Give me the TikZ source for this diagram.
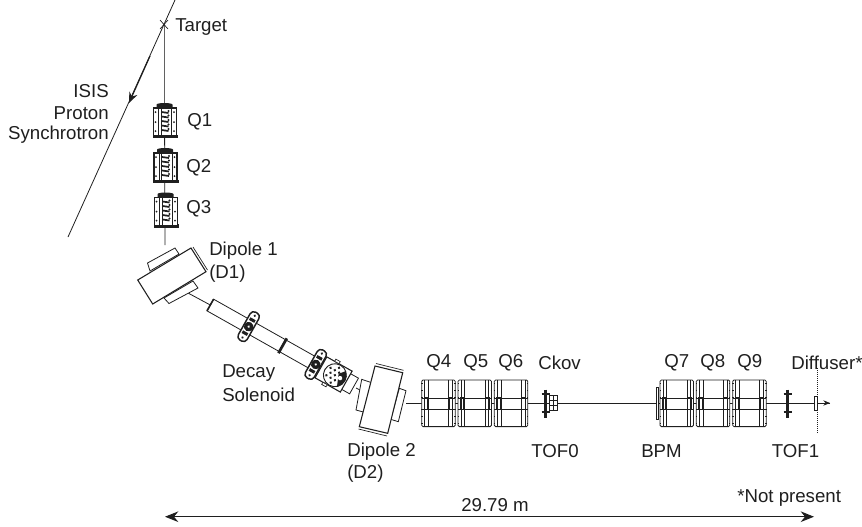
\documentclass[tikz,border=0pt]{standalone}
\usepackage{fontspec}
\setmainfont{Liberation Sans}
\usetikzlibrary{arrows.meta}
\definecolor{ink}{gray}{0.12}
\tikzset{
  lab/.style={font=\fontsize{14pt}{16pt}\selectfont, text=ink, inner sep=0pt, anchor=west, yshift=-1.1pt},
  labr/.style={lab, anchor=east},
  beam/.style={draw=ink, line width=0.6pt},
  part/.style={draw=ink, line width=0.6pt, fill=white},
  thin part/.style={draw=ink, line width=0.35pt},
  smallquad/.pic={
    \fill[ink] (-8,-16.5) .. controls (-7,-18.5) and (7,-18.5) .. (8,-16.5) -- (8,-13) -- (-8,-13) -- cycle;
    \fill[ink] (-12,13.5) rectangle (13.5,17);
    \draw[part, line width=1pt] (-11,-13) rectangle (12,15);
    \draw[ink, line width=0.5pt] (-6,-13) -- (-6,15) (-3.5,-13) -- (-3.5,15) (7,-13) -- (7,15);
    \foreach \yy in {-9,-4.5,0,4.5,9}{
      \draw[ink, line width=1.3pt] (-3,\yy) -- (4,\yy+1);
      \fill[ink] (4,\yy-1) circle (1.2);
    }
    \foreach \yy in {-9,1,10}{
      \fill[ink] (-9,\yy) circle (1);
      \fill[ink] (9.5,\yy) circle (1);
    }
  },
  bigquad/.pic={
    \draw[part, rounded corners=1pt] (0,-23.3) rectangle (33.5,23.3);
    \draw[thin part] (3,-23.3) -- (3,23.3) (6.5,-23.3) -- (6.5,23.3)
                     (27,-23.3) -- (27,23.3) (30.5,-23.3) -- (30.5,23.3);
    \draw[thin part] (0,-5.5) -- (33.5,-5.5) (0,6) -- (33.5,6);
    \draw[ink, line width=0.9pt] (2.5,-5.5) rectangle (6,6) (27.5,-5.5) rectangle (31,6);
    \foreach \yy in {-20,-13,-6,6,13,20}{
      \draw[ink, line width=0.8pt] (-0.5,\yy) -- (1,\yy) (32.5,\yy) -- (34,\yy);
    }
  },
  flange/.pic={
    \draw[part, line width=1.1pt, rounded corners=3pt] (-5,-16) rectangle (5,16);
    \fill[ink] (0,0) circle (4.8);
    \fill[white] (0,0) circle (1.3);
    \fill[ink] (-3,-9) rectangle (3,-6) (-3,6) rectangle (3,9);
    \fill[ink] (0,-12.5) circle (1.3) (0,12.5) circle (1.3);
  },
  tofbar/.pic={
    \draw[ink, line width=2pt] (0,-14) -- (0,14);
    \draw[ink, line width=1.5pt] (-4,-9.5) -- (4,-9.5) (-4,8.5) -- (4,8.5);
  }
}
\begin{document}
\begin{tikzpicture}[x=0.75pt,y=-0.75pt]
\useasboundingbox (0,0) rectangle (862,526);

% named anchors
\coordinate (target) at (164,24);
\coordinate (ringA) at (175,0);
\coordinate (ringB) at (68,237);
\coordinate (ringM) at (129,103);
\coordinate (d1in) at (165,245);
\coordinate (d1out) at (188,293);
\coordinate (solin) at (210.3,305);
\coordinate (solout) at (356,388);
\coordinate (d2in) at (364,392);
\coordinate (d2out) at (406,403);
\coordinate (end) at (830,403);
\coordinate (dimL) at (165,516.7);
\coordinate (dimR) at (814,516.7);
\coordinate (difTop) at (817.7,368);
\coordinate (difBot) at (817.7,434);

% synchrotron line
\draw[beam] (ringA) -- (ringB);
\draw[ink, line width=0.9pt, -{Stealth[length=8pt,width=6.5pt]}] (150,56) -- (ringM);

% target to D1
\draw[draw=ink!70, line width=0.7pt] (target) -- (164,104);
\draw[beam] (164.5,104) -- (d1in);
\draw[ink, line width=0.5pt] (160,20) -- (168,29) (168,20) -- (160,29);

% small quads
\pic at (164.5,121) {smallquad};
\pic at (165,166) {smallquad};
\pic at (165.5,210.5) {smallquad};

% D1 to solenoid, D2 out, main line
\draw[beam] (d1out) -- (solin);
\draw[beam] (solout) -- (d2in);
\draw[beam] (d2out) -- (end);
\draw[ink, -{Stealth[length=5pt,width=4pt]}, line width=0.6pt] (810,403) -- (end);

% Dipole 1
\draw[part] (147.5,263) -- (175,248) -- (179,254) -- (150,271) -- cycle;
\draw[part] (164,298) -- (169,303.5) -- (198,288) -- (193,281) -- cycle;
\draw[part, line width=0.8pt] (137.7,280) -- (152.7,304) -- (206,271.7) -- (191,248) -- cycle;
\draw[ink, line width=0.5pt] (193,247) -- (207.5,270);

% Solenoid
\begin{scope}[shift={(solin)}, rotate=-29.4]
  \draw[part] (0,-6.7) rectangle (121,6.7);
  \draw[ink, line width=1.2pt] (0,-6.7) -- (0,6.7);
  \draw[ink, line width=2pt] (83,-8.5) -- (83,8.5);
  \pic[transform shape] at (44,0) {flange};
  \draw[part] (150,-9) rectangle (165,9);
  \draw[part, line width=0.8pt] (127,-12) rectangle (156,12);
  \draw[ink, fill=white, line width=0.7pt] (143,0) circle (11.5);
  \foreach \aa/\rr in {0/0,60/5,120/5,180/5,240/5,300/5,30/8.5,90/8.5,150/8.5,210/8.5,270/8.5}{
    \fill[ink] (143,0) ++(\aa:\rr) circle (1.4);
  }
  \fill[ink] (143,0) ++(-50:4) -- ++(-50:7.5) arc (-50:50:11.5) -- cycle;
  \fill[white] (149,0) circle (2.2);
  \pic[transform shape] at (121,0) {flange};
  \draw[ink, fill=white, line width=0.5pt] (136,-14.5) rectangle (141,-12) (136,12) rectangle (141,14.5);
\end{scope}

% Dipole 2
\draw[part] (361.7,379.3) -- (371.7,382.7) -- (366,412.7) -- (356,410) -- cycle;
\draw[part] (399.3,388.3) -- (406,390.7) -- (398.3,421.7) -- (390.7,419.3) -- cycle;
\draw[part, line width=0.8pt] (375,366) -- (402.7,372.7) -- (387.7,433.3) -- (359.3,426.7) -- cycle;
\draw[ink, line width=0.5pt] (376,363.5) -- (403.5,370.3) (358.5,429) -- (387,436);

% Big quads
\foreach \xx in {421.7,458,494.3,660,696.3,732.7}{
  \pic at (\xx,403.3) {bigquad};
}

% BPM
\draw[part, line width=0.6pt] (656.3,387) rectangle (658.7,419);

% TOF0 + Ckov
\draw[part] (549,395.5) rectangle (557.7,410);
\draw[thin part] (549,400) -- (557.7,400) (549,405) -- (557.7,405) (553.3,395.5) -- (553.3,410);
\pic at (545.7,403.5) {tofbar};

% TOF1
\pic at (787.7,403.5) {tofbar};

% Diffuser
\draw[part] (814,396.7) rectangle (817.7,410.7);
\draw[ink, line width=0.5pt, densely dotted] (difTop) -- (difBot);

% Dimension
\draw[ink, line width=0.7pt, {Stealth[length=10pt,width=8pt]}-{Stealth[length=10pt,width=8pt]}] (dimL) -- (dimR);

% Labels
\node[lab] (lTarget) at (175,26) {Target};
\node[labr] (lISIS) at (109,90) {ISIS};
\node[labr] (lProton) at (109,112) {Proton};
\node[labr] (lSyn) at (109,133) {Synchrotron};
\node[lab] (lQ1) at (187,120) {Q1};
\node[lab] (lQ2) at (186,166) {Q2};
\node[lab] (lQ3) at (186,207) {Q3};
\node[lab] (lD1a) at (209,249) {Dipole 1};
\node[lab] (lD1b) at (209,272) {(D1)};
\node[lab] (lDec) at (222,372) {Decay};
\node[lab] (lSol) at (222,393) {Solenoid};
\node[lab] (lD2a) at (347,450) {Dipole 2};
\node[lab] (lD2b) at (347,472) {(D2)};
\node[lab] (lQ4) at (426,361) {Q4};
\node[lab] (lQ5) at (463,361) {Q5};
\node[lab] (lQ6) at (498,361) {Q6};
\node[lab] (lCkov) at (538,361) {Ckov};
\node[lab] (lTOF0) at (531,450) {TOF0};
\node[lab] (lBPM) at (641,450) {BPM};
\node[lab] (lTOF1) at (771.5,450) {TOF1};
\node[lab] (lQ7) at (664,361) {Q7};
\node[lab] (lQ8) at (700,361) {Q8};
\node[lab] (lQ9) at (737,361) {Q9};
\node[lab] (lDif) at (791,361) {Diffuser*};
\node[lab] (lNot) at (737,497) {*Not present};
\node[lab] (lDist) at (461,504) {29.79 m};
\end{tikzpicture}
\end{document}
